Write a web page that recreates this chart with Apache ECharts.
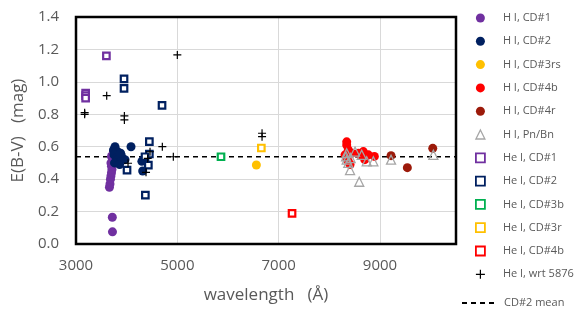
<!DOCTYPE html>
<html>
<head>
<meta charset="utf-8">
<script src="https://cdn.jsdelivr.net/npm/echarts@6/dist/echarts.min.js"></script>
<style>
html,body{margin:0;padding:0;background:#fff;}
#chart{width:581px;height:309px;}
</style>
</head>
<body>
<div id="chart"></div>
<script>
// ---- data (wavelength Å, E(B-V) mag) ----
const seriesNames = ['H I, CD#1','H I, CD#2','H I, CD#3rs','H I, CD#4b','H I, CD#4r','H I, Pn/Bn',
  'He I, CD#1','He I, CD#2','He I, CD#3b','He I, CD#3r','He I, CD#4b','He I, wrt 5876'];
const hiCD1 = [[3660,0.35],[3671,0.37],[3680,0.40],[3690,0.42],[3700,0.44],[3710,0.46],[3700,0.48],
  [3690,0.50],[3720,0.52],[3700,0.54],[3720,0.55],[3740,0.57],[3717,0.165],[3720,0.075]];
const hiCD2 = [[3770,0.60],[3740,0.58],[3820,0.57],[3750,0.55],[3800,0.53],[3830,0.52],[3760,0.50],
  [3860,0.49],[3900,0.54],[3967,0.52],[4086,0.60],[4300,0.51],[4330,0.52],[4316,0.45],[3880,0.56]];
const hiCD3rs = [[6560,0.487]];
const hiCD4b = [[8343,0.63],[8343,0.61],[8375,0.58],[8442,0.56],[8573,0.56],[8671,0.57],[8770,0.55],
  [8889,0.54],[8310,0.55],[8343,0.53],[8375,0.51],[8409,0.49],[8620,0.55],[8700,0.52]];
const hiCD4r = [[9218,0.545],[9540,0.471],[10041,0.590]];
const hiPnBn = [[8343,0.56],[8343,0.52],[8375,0.50],[8409,0.456],[8507,0.57],[8639,0.55],[8738,0.51],
  [8869,0.51],[8590,0.384],[9218,0.52],[10053,0.55],[8330,0.54],[8420,0.53]];
const heiCD1 = [[3600,1.16],[3190,0.93],[3190,0.915],[3190,0.90]];
const heiCD2 = [[3948,1.018],[3948,0.96],[4698,0.855],[4448,0.631],[4448,0.555],[4362,0.538],
  [4428,0.487],[4007,0.456],[4369,0.302]];
const heiCD3b = [[5862,0.538]];
const heiCD3r = [[6658,0.592]];
const heiCD4b = [[7264,0.189]];
const heiWrt5876 = [[5000,1.166],[3606,0.915],[3171,0.81],[3171,0.80],[3955,0.79],[3955,0.765],
  [4704,0.60],[4921,0.538],[4027,0.498],[4461,0.569],[4415,0.528],[4382,0.442],[6672,0.683],[6672,0.662]];
const meanName = 'CD#2 mean';
const cd2Mean = 0.538;
const xRange = [3000, 10500];
const yRange = [0, 1.4];

// ---- styles ----
const FONT = 'Open Sans';
const TXT = '#595959';
const PLUS = 'path://M5,0L5,10M0,5L10,5';
const allData = [hiCD1,hiCD2,hiCD3rs,hiCD4b,hiCD4r,hiPnBn,heiCD1,heiCD2,heiCD3b,heiCD3r,heiCD4b,heiWrt5876];
const styles = [
  {symbol:'circle', size:9, color:'#7030A0'},
  {symbol:'circle', size:9, color:'#002060'},
  {symbol:'circle', size:9, color:'#FFC000'},
  {symbol:'circle', size:9, color:'#FF0000'},
  {symbol:'circle', size:9, color:'#9C1A0A'},
  {symbol:'triangle', size:9, color:'transparent', border:'#A6A6A6', bw:1.3},
  {symbol:'rect', size:6.5, color:'#fff', border:'#7030A0', bw:2.2},
  {symbol:'rect', size:6.5, color:'#fff', border:'#002060', bw:2.2},
  {symbol:'rect', size:6.5, color:'#fff', border:'#00B050', bw:2.2},
  {symbol:'rect', size:6.5, color:'#fff', border:'#FFC000', bw:2.2},
  {symbol:'rect', size:6.5, color:'#fff', border:'#FF0000', bw:2.2},
  {symbol:PLUS, size:8, color:'transparent', border:'#000', bw:1.2}
];

const series = seriesNames.map((n,i)=>{
  const s = styles[i];
  return {
    name:n, type:'scatter', data:allData[i], symbol:s.symbol, symbolSize:s.size,
    itemStyle:{color:s.color, borderColor:s.border||s.color, borderWidth:s.bw||0, opacity:1},
    emphasis:{disabled:true}, silent:true, z:2+i
  };
});
series.push({
  name:meanName, type:'line', data:[[xRange[0],cd2Mean],[xRange[1],cd2Mean]],
  symbol:'none', lineStyle:{color:'#000', width:1.3, type:[5,4]}, itemStyle:{color:'#000'},
  silent:true, z:1
});

const legendItems = seriesNames.map((n,i)=>{
  const s = styles[i];
  const small = s.symbol === 'rect';
  return {name:n, icon:s.symbol, itemStyle:{borderWidth: small ? 1.8 : (s.bw||0)}};
});

const chart = echarts.init(document.getElementById('chart'), null, {renderer:'canvas'});
chart.setOption({
  animation:false,
  backgroundColor:'#fff',
  grid:{left:76, top:17, width:380, height:227, show:true, borderColor:'#000', borderWidth:2.5, backgroundColor:'transparent', z:10},
  xAxis:{
    type:'value', min:xRange[0], max:xRange[1], interval:2000,
    name:'wavelength   (Å)', nameLocation:'middle', nameGap:43,
    nameTextStyle:{fontFamily:FONT, fontSize:17, color:TXT},
    axisLine:{show:false}, axisTick:{show:false},
    axisLabel:{fontFamily:FONT, fontSize:15, color:TXT, margin:14, showMaxLabel:false, formatter:v=>String(v)},
    splitLine:{show:true, lineStyle:{color:'#D9D9D9', width:1}}
  },
  yAxis:{
    type:'value', min:yRange[0], max:yRange[1], interval:0.2,
    name:'E(B-V)   (mag)', nameLocation:'middle', nameGap:36,
    nameTextStyle:{fontFamily:FONT, fontSize:17, color:TXT},
    axisLine:{show:false}, axisTick:{show:false},
    axisLabel:{fontFamily:FONT, fontSize:15, color:TXT, margin:17, formatter:v=>v.toFixed(1)},
    splitLine:{show:true, lineStyle:{color:'#D9D9D9', width:1}}
  },
  legend:[
    {
      data:legendItems, orient:'vertical', left:470, top:6,
      itemWidth:9, itemHeight:9, itemGap:9.3, symbolKeepAspect:true,
      formatter:n=>'{t|'+n+'}',
      textStyle:{fontFamily:FONT, fontSize:11, color:TXT, lineHeight:14,
        rich:{t:{fontFamily:FONT, fontSize:11, color:TXT, padding:[0,0,0,13]}}},
      selectedMode:false
    },
    {
      data:[{name:meanName, itemStyle:{color:'transparent', borderColor:'transparent', borderWidth:0, opacity:0}}],
      orient:'vertical', left:456, top:291,
      itemWidth:34, itemHeight:8,
      formatter:n=>'{t|'+n+'}',
      textStyle:{fontFamily:FONT, fontSize:11, color:TXT, lineHeight:14,
        rich:{t:{fontFamily:FONT, fontSize:11, color:TXT, padding:[0,0,0,3]}}},
      selectedMode:false
    }
  ],
  series:series
});
</script>
</body>
</html>
